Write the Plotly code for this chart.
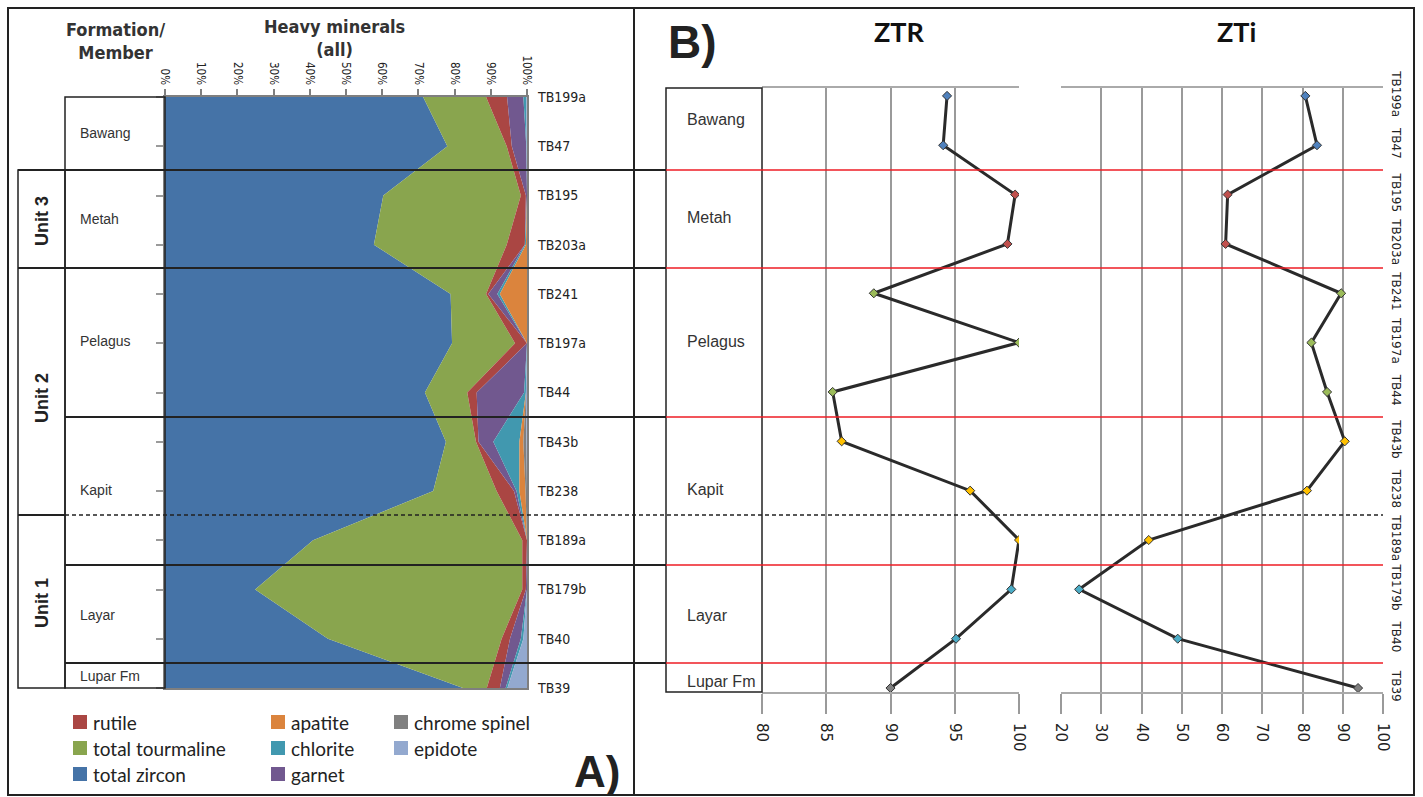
import plotly.graph_objects as go

W, H = 1423, 797

# ---------------- data ----------------
samples = ["TB199a", "TB47", "TB195", "TB203a", "TB241", "TB197a", "TB44",
           "TB43b", "TB238", "TB189a", "TB179b", "TB40", "TB39"]

zircon = [71.3, 78.0, 60.3, 57.7, 78.9, 79.3, 71.8, 77.6, 74.1, 40.9, 24.9, 45.0, 82.3]
tourmaline = [17.4, 16.4, 38.0, 36.7, 9.8, 17.4, 11.7, 8.3, 17.5, 57.8, 73.8, 48.0, 6.6]
rutile = [5.8, 1.4, 1.4, 5.0, 0.6, 3.3, 2.6, 0.7, 4.8, 1.3, 1.0, 2.3, 3.6]
garnet = [4.5, 4.0, 0.3, 0.0, 2.5, 0.0, 13.1, 4.1, 0.7, 0.0, 0.3, 3.0, 1.6]
chlorite = [0.8, 0.2, 0.0, 0.3, 0.7, 0.0, 0.5, 7.2, 0.8, 0.0, 0.0, 0.7, 0.5]
apatite = [0.0, 0.0, 0.0, 0.3, 7.5, 0.0, 0.0, 1.1, 1.7, 0.0, 0.0, 0.0, 0.0]
chrome_spinel = [0.0, 0.0, 0.0, 0.0, 0.0, 0.0, 0.0, 0.9, 0.4, 0.0, 0.0, 0.0, 0.0]
epidote = [0.2, 0.0, 0.0, 0.0, 0.0, 0.0, 0.3, 0.1, 0.0, 0.0, 0.0, 1.0, 5.4]

ztr = [94.4, 94.1, 99.7, 99.1, 88.7, 100.0, 85.5, 86.2, 96.2, 100.0, 99.4, 95.1, 90.0]
zti = [80.7, 83.6, 61.4, 60.9, 89.6, 82.2, 86.1, 90.5, 81.1, 41.8, 24.5, 49.0, 93.8]

sample_group = ["Bawang", "Bawang", "Metah", "Metah", "Pelagus", "Pelagus", "Pelagus",
                "Kapit", "Kapit", "Kapit", "Layar", "Layar", "Lupar Fm"]
formations = ["Bawang", "Metah", "Pelagus", "Kapit", "Layar", "Lupar Fm"]
units = ["Unit 3", "Unit 2", "Unit 1"]

pct_ticks = list(range(0, 101, 10))
pct_labels = [f"{v}%" for v in pct_ticks]
ztr_ticks = [80, 85, 90, 95, 100]
zti_ticks = list(range(20, 101, 10))

# ---------------- styling ----------------
NARROW = "Liberation Sans Narrow, DejaVu Sans Condensed, Arial Narrow, sans-serif"
ARIAL = "Liberation Sans, Arial, sans-serif"
CAL = "Lato, Open Sans, sans-serif"
VERD = "DejaVu Sans, Verdana, sans-serif"

mineral_colors = {
    "total zircon": "#4573A7", "total tourmaline": "#89A54E", "rutile": "#AA4643",
    "garnet": "#71588F", "chlorite": "#4198AF", "apatite": "#DB843D",
    "chrome spinel": "#808080", "epidote": "#93A9CF",
}
group_colors = {"Bawang": "#4F81BD", "Metah": "#C0504D", "Pelagus": "#9BBB59",
                "Kapit": "#FFC000", "Layar": "#4BACC6", "Lupar Fm": "#7F7F7F"}


def X(px):
    return px / W


def Y(py):
    return 1 - py / H


idx = list(range(len(samples)))

fig = go.Figure()

stack = [("total zircon", zircon), ("total tourmaline", tourmaline), ("rutile", rutile),
         ("garnet", garnet), ("chlorite", chlorite), ("apatite", apatite),
         ("chrome spinel", chrome_spinel), ("epidote", epidote)]
for name, vals in stack:
    col = mineral_colors[name]
    fig.add_trace(go.Scatter(
        x=vals, y=idx, name=name, stackgroup="hm", orientation="h", groupnorm="percent",
        mode="lines", line=dict(width=0, color=col), fillcolor=col,
        xaxis="x", yaxis="y", showlegend=False, hoverinfo="skip"))

# dummy for right-hand sample labels of panel A
fig.add_trace(go.Scatter(x=[None], y=[None], xaxis="x", yaxis="y2", showlegend=False))

mcols = [group_colors[g] for g in sample_group]
fig.add_trace(go.Scatter(
    x=ztr, y=idx, xaxis="x2", yaxis="y3", mode="lines+markers",
    line=dict(color="#2a2a2a", width=3),
    marker=dict(symbol="diamond", size=7, color=mcols, line=dict(color="#333", width=1)),
    showlegend=False))
fig.add_trace(go.Scatter(
    x=zti, y=idx, xaxis="x3", yaxis="y4", mode="lines+markers",
    line=dict(color="#2a2a2a", width=3),
    marker=dict(symbol="diamond", size=7, color=mcols, line=dict(color="#333", width=1)),
    showlegend=False))

shapes = []


def line(x0, y0, x1, y1, color="#222", width=2, dash=None):
    d = dict(type="line", xref="paper", yref="paper", x0=X(x0), y0=Y(y0), x1=X(x1), y1=Y(y1),
             line=dict(color=color, width=width))
    if dash:
        d["line"]["dash"] = dash
    shapes.append(d)


def rect(x0, y0, x1, y1, color="#222", width=2, fill=None):
    d = dict(type="rect", xref="paper", yref="paper", x0=X(x0), y0=Y(y0), x1=X(x1), y1=Y(y1),
             line=dict(color=color, width=width))
    if fill:
        d["fillcolor"] = fill
    shapes.append(d)


# outer frame and panel divider
rect(8, 8, 1414, 795, color="#222", width=2)
line(634, 8, 634, 795, color="#222", width=2)

# panel A columns
rect(65, 97, 165, 688, color="#222", width=1.5)
rect(18, 170, 65, 688, color="#222", width=1.5)
line(18, 268, 65, 268, width=2)
line(18, 515, 65, 515, width=2)

# long boundaries (black in A, continued to B box)
line(18, 170, 666, 170, width=2)
line(18, 268, 666, 268, width=2)
for yy in (417, 565, 663):
    line(65, yy, 666, yy, width=2)

# panel B formation box
rect(666, 88, 762, 692, color="#222", width=1.5)

# red boundaries in B
for yy in (170, 268, 417, 565, 663):
    line(666, yy, 1383, yy, color="#EE1C25", width=1.5)

# dashed boundary
line(65, 515, 1383, 515, color="#222", width=1.5, dash="4px,3px")

annotations = []


def text(x, y, s, size, family=ARIAL, color="#333", xanchor="center", yanchor="middle",
         angle=0):
    annotations.append(dict(x=X(x), y=Y(y), xref="paper", yref="paper", text=s,
                            showarrow=False, xanchor=xanchor, yanchor=yanchor,
                            textangle=angle, font=dict(family=family, size=size, color=color)))


# headers
text(115, 41, "<b>Formation/<br>Member</b>", 18, NARROW, "#333")
text(334, 38, "<b>Heavy minerals<br>(all)</b>", 18, NARROW, "#333")

# panel A formation labels
a_pos = [133, 219, 341, 490, 615, 676]
for f, yy in zip(formations, a_pos):
    text(78, yy, f, 14, ARIAL, "#333", xanchor="left")

# unit labels
u_pos = [221, 398, 603]
for u, yy in zip(units, u_pos):
    text(42, yy, "<b>" + u + "</b>", 18, ARIAL, "#222", angle=-90)

# panel B formation labels
b_pos = [120, 218, 341, 490, 615, 681]
for f, yy in zip(formations, b_pos):
    text(685, yy, f, 16, ARIAL, "#333", xanchor="left")

# titles
text(899, 32, "<b>ZTR</b>", 27, CAL, "#111")
text(1236, 32, "<b>ZTi</b>", 27, CAL, "#111")
text(692, 42, "<b>B)</b>", 46, ARIAL, "#222")
text(597, 771, "<b>A)</b>", 44, ARIAL, "#222")

# legend (manual)
legend_items = [
    ("rutile", 73, 722), ("total tourmaline", 73, 748), ("total zircon", 73, 774),
    ("apatite", 271, 722), ("chlorite", 271, 748), ("garnet", 271, 774),
    ("chrome spinel", 394, 722), ("epidote", 394, 748),
]
for name, lx, ly in legend_items:
    rect(lx, ly - 7, lx + 14, ly + 7, color=mineral_colors[name], width=0,
         fill=mineral_colors[name])
    text(lx + 18, ly, name, 19, CAL, "#222", xanchor="left")

grid_col = "#9a9a9a"
fig.update_layout(
    width=W, height=H, autosize=False, margin=dict(l=0, r=0, t=0, b=0, pad=0),
    paper_bgcolor="white", plot_bgcolor="white", showlegend=False,
    shapes=shapes, annotations=annotations,
    xaxis=dict(domain=[X(165), X(527)], range=[0, 100], side="top", anchor="y",
               tickmode="array", tickvals=pct_ticks, ticktext=pct_labels, tickangle=90,
               ticks="outside", ticklen=6, tickwidth=2, tickcolor="#7f7f7f", showline=True,
               linecolor="#7f7f7f", linewidth=2, mirror=True, showgrid=False,
               zeroline=False, automargin=False,
               tickfont=dict(family=NARROW, size=11.5, color="#222")),
    yaxis=dict(domain=[Y(688), Y(97)], range=[12, 0], anchor="x", tickvals=idx,
               showticklabels=False, ticks="outside", ticklen=7, tickwidth=2,
               tickcolor="#9a9a9a", showgrid=False, zeroline=False, showline=True,
               linecolor="#7f7f7f", linewidth=2, mirror=True, automargin=False),
    yaxis2=dict(overlaying="y", side="right", anchor="x", range=[12, 0], tickvals=idx,
                ticktext=samples, ticks="", showgrid=False, zeroline=False,
                showline=False, ticklabelstandoff=10, automargin=False,
                tickfont=dict(family=NARROW, size=14, color="#222")),
    xaxis2=dict(domain=[X(762), X(1019)], range=[80, 100], anchor="y3", side="bottom",
                tickvals=ztr_ticks, tickangle=90, ticks="outside", ticklen=20,
                tickwidth=2, tickcolor=grid_col, showgrid=True, gridcolor=grid_col,
                gridwidth=2, zeroline=False, showline=True, linecolor="#aaaaaa",
                linewidth=2, mirror=True, automargin=False, ticklabelstandoff=6,
                tickfont=dict(family=VERD, size=15, color="#222")),
    yaxis3=dict(domain=[Y(692), Y(88)], range=[12.08, -0.16], anchor="x2",
                showticklabels=False, ticks="", showgrid=False, zeroline=False,
                showline=False, automargin=False),
    xaxis3=dict(domain=[X(1061), X(1383)], range=[20, 100], anchor="y4", side="bottom",
                tickvals=zti_ticks, tickangle=90, ticks="outside", ticklen=20,
                tickwidth=2, tickcolor=grid_col, showgrid=True, gridcolor=grid_col,
                gridwidth=2, zeroline=False, showline=True, linecolor="#aaaaaa",
                linewidth=2, mirror=True, automargin=False, ticklabelstandoff=6,
                tickfont=dict(family=VERD, size=15, color="#222")),
    yaxis4=dict(domain=[Y(692), Y(88)], range=[12.08, -0.16], anchor="x3", side="right",
                tickvals=idx, ticktext=samples, tickangle=90, ticks="",
                showgrid=False, zeroline=False, showline=False, ticklabelstandoff=6,
                automargin=False, tickfont=dict(family=VERD, size=12, color="#222")),
)

fig.write_html("out.html",
               post_script="document.body.style.margin='0';document.body.style.overflow='hidden';")
